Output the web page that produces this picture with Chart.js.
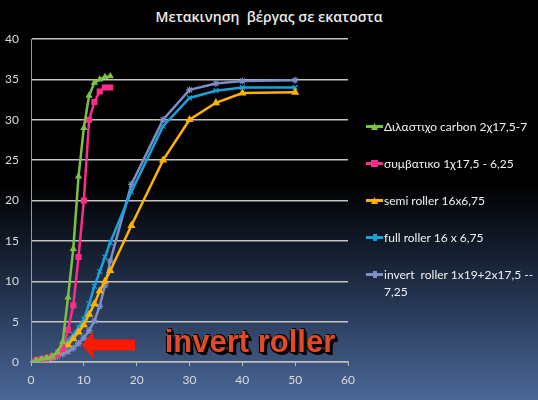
<!DOCTYPE html>
<html>
<head>
<meta charset="utf-8">
<script src="https://cdn.jsdelivr.net/npm/chart.js@4"></script>
<style>
  html, body { margin: 0; padding: 0; }
  body {
    width: 538px; height: 400px; overflow: hidden; position: relative;
    background: linear-gradient(to bottom, #000 0%, #000 46%, #131c2c 62%, #2c3f60 80%, #4a6797 100%);
    font-family: "Open Sans", sans-serif;
  }
  #wrap { position: absolute; left: 0; top: 0; width: 538px; height: 400px; }
  #title {
    position: absolute; left: 0; width: 538px; top: 7px; text-align: center;
    color: #ececec; font: 600 14px "Open Sans", sans-serif; white-space: pre;
  }
  #legend { position: absolute; left: 366px; top: 118px; width: 170px; }
  .item { position: relative; height: 37px; color: #f2f2f2; font: 12px Lato, sans-serif; }
  .item .sym { position: absolute; left: 0; top: 7px; width: 17px; height: 3px; }
  .item .mk { position: absolute; left: 5px; top: -2px; width: 7px; height: 7px; }
  .item .txt { position: absolute; left: 18px; top: 0; width: 152px; line-height: 17px; white-space: pre-wrap; }
</style>
</head>
<body>
<div id="title">Μετακινηση  βέργας σε εκατοστα</div>
<div id="wrap"><canvas id="chart" width="538" height="400"></canvas></div>
<div id="legend"></div>
<script>
// x positions (cm of travel?)
const xShort = [0, 1, 2, 3, 4, 5, 6, 7, 8, 9, 10, 11, 12, 13, 14, 15];
const xLong = [0, 1, 2, 3, 4, 5, 6, 7, 8, 9, 10, 11, 12, 13, 14, 15, 19, 25, 30, 35, 40, 50];

// series values
const carbonY = [0, 0.2, 0.35, 0.5, 0.7, 1.2, 2.5, 8, 14, 23, 29, 33, 34.6, 35, 35.3, 35.4];
const symbatikoY = [0, 0.2, 0.35, 0.5, 0.7, 0.9, 1.6, 4, 7, 13, 20, 30, 32.2, 33.5, 34, 34];
const semiY = [0, 0.1, 0.25, 0.4, 0.6, 1.0, 1.5, 2.1, 2.9, 3.7, 4.6, 5.9, 7.2, 8.8, 10, 11.3, 16.9, 25, 30, 32.1, 33.3, 33.4];
const fullY = [0, 0.15, 0.3, 0.5, 0.7, 1.2, 1.9, 2.7, 3.4, 4.3, 5.3, 7.2, 9.4, 11.2, 13, 14.8, 21.1, 29.2, 32.7, 33.6, 34, 34];
const invertY = [0, 0.1, 0.2, 0.3, 0.5, 0.7, 1.0, 1.3, 1.7, 2.3, 3.0, 3.9, 5.1, 6.9, 9.5, 12.5, 22, 30, 33.7, 34.5, 34.8, 34.9];

const seriesNames = [
  'Διλαστιχο carbon 2χ17,5-7',
  'συμβατικο 1χ17,5 - 6,25',
  'semi roller 16x6,75',
  'full roller 16 x 6,75',
  'invert  roller 1x19+2x17,5 -- 7,25'
];
const seriesColors = ['#7cc242', '#ff2d8a', '#ffb300', '#18a2dc', '#7b8ec8'];
const seriesMarkers = ['triangle', 'rect', 'triangle', 'crossRot', 'star'];

// y ticks every 5 up to 40, x ticks every 10 up to 60
const yMax = 40, yStep = 5;
const xMax = 60, xStep = 10;

function pts(xs, ys) {
  return ys.map((v, i) => ({ x: xs[i], y: v }));
}

const seriesData = [
  pts(xShort, carbonY),
  pts(xShort, symbatikoY),
  pts(xLong, semiY),
  pts(xLong, fullY),
  pts(xLong, invertY)
];
const markerSize = [3, 3.5, 3.5, 3.5, 3.5];

const datasets = seriesNames.map((name, i) => ({
  label: name,
  data: seriesData[i],
  borderColor: seriesColors[i],
  backgroundColor: seriesColors[i],
  borderWidth: 2.5,
  pointStyle: seriesMarkers[i],
  pointRadius: markerSize[i],
  pointBorderWidth: 1.2,
  pointBorderColor: seriesColors[i],
  pointBackgroundColor: seriesColors[i],
  tension: 0
}));

// the red "invert roller" arrow + label, placed via the scales
const arrowNote = {
  id: 'arrowNote',
  afterDatasetsDraw(chart) {
    const ctx = chart.ctx;
    const xs = chart.scales.x, ys = chart.scales.y;
    const tipX = xs.getPixelForValue(9.6), midY = ys.getPixelForValue(2.1);
    const headX = xs.getPixelForValue(11.8), tailX = xs.getPixelForValue(19.7);
    ctx.save();
    ctx.fillStyle = '#ff1800';
    ctx.beginPath();
    ctx.moveTo(tipX, midY);
    ctx.lineTo(headX, midY - 13.5);
    ctx.lineTo(headX, midY - 5.5);
    ctx.lineTo(tailX, midY - 5.5);
    ctx.lineTo(tailX, midY + 5.5);
    ctx.lineTo(headX, midY + 5.5);
    ctx.lineTo(headX, midY + 13.5);
    ctx.closePath();
    ctx.fill();

    ctx.font = 'bold 31px "Liberation Sans", Arial, sans-serif';
    ctx.textBaseline = 'alphabetic';
    const tx = xs.getPixelForValue(25.3), ty = ys.getPixelForValue(1.2);
    ctx.fillStyle = '#000';
    for (const [dx, dy] of [[2, 2], [3, 3], [1, 2], [2, 1], [-1, 1], [1, -1]]) {
      ctx.fillText('invert roller', tx + dx, ty + dy);
    }
    ctx.fillStyle = '#e24a26';
    ctx.fillText('invert roller', tx, ty);
    ctx.restore();
  }
};

const ctx = document.getElementById('chart').getContext('2d');
const chart = new Chart(ctx, {
  type: 'line',
  data: { datasets: datasets },
  options: {
    responsive: false,
    animation: false,
    layout: { padding: { left: 0, right: 190, top: 39, bottom: 0 } },
    plugins: { legend: { display: false }, title: { display: false }, tooltip: { enabled: false } },
    scales: {
      x: {
        type: 'linear', min: 0, max: xMax,
        afterFit: s => { s.height = 38; },
        grid: { drawOnChartArea: false, drawTicks: true, tickLength: 4, color: '#bdbdbd', lineWidth: 1 },
        border: { display: true, color: '#bdbdbd', width: 1.5 },
        ticks: { stepSize: xStep, color: '#dcdcdc', padding: 7, font: { family: 'Lato', size: 12 } }
      },
      y: {
        type: 'linear', min: 0, max: yMax,
        afterFit: s => { s.width = 31; },
        grid: { drawTicks: false, color: '#c4c4c4', lineWidth: 1.5 },
        border: { display: true, color: '#9a9a9a', width: 1 },
        ticks: { stepSize: yStep, color: '#dcdcdc', padding: 12, font: { family: 'Lato', size: 12 } }
      }
    }
  },
  plugins: [arrowNote]
});

// legend built from the same series arrays
const legend = document.getElementById('legend');
seriesNames.forEach((name, i) => {
  const item = document.createElement('div');
  item.className = 'item';
  const sym = document.createElement('div');
  sym.className = 'sym';
  sym.style.background = seriesColors[i];
  const mk = document.createElement('div');
  mk.className = 'mk';
  mk.style.background = seriesColors[i];
  if (seriesMarkers[i] === 'triangle') {
    mk.style.clipPath = 'polygon(50% 0, 100% 100%, 0 100%)';
  } else if (seriesMarkers[i] === 'crossRot' || seriesMarkers[i] === 'star') {
    mk.style.width = '4px'; mk.style.left = '6.5px'; mk.style.height = '7px';
  }
  sym.appendChild(mk);
  const txt = document.createElement('div');
  txt.className = 'txt';
  txt.textContent = name;
  item.appendChild(sym);
  item.appendChild(txt);
  legend.appendChild(item);
});
</script>
</body>
</html>
